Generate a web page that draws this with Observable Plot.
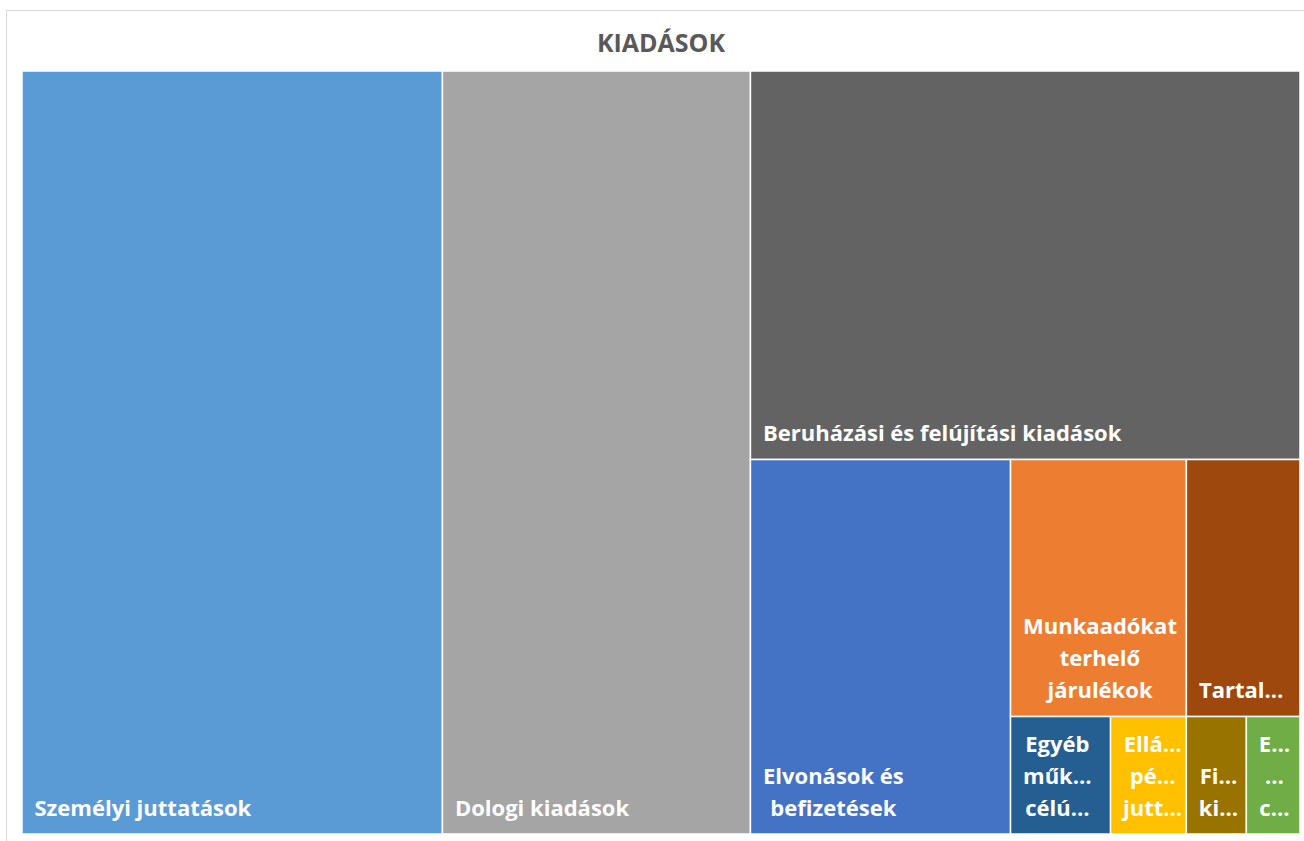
<!DOCTYPE html>
<html><head><meta charset="utf-8">
<script src="https://cdn.jsdelivr.net/npm/d3@7"></script>
<script src="https://cdn.jsdelivr.net/npm/@observablehq/plot@0.6"></script>
<style>
html,body{margin:0;padding:0;background:#fff;width:1304px;height:841px;overflow:hidden;}
#frame{position:absolute;left:6px;top:10px;width:1400px;height:900px;border:1.5px solid #d9d9d9;box-sizing:border-box;}
#title{position:absolute;left:0;top:27px;width:1322px;text-align:center;font:bold 25px "Open Sans";line-height:30px;color:#595959;}
#chart{position:absolute;left:0;top:0;}
</style></head><body>
<div id="frame"></div>
<div id="title">KIADÁSOK</div>
<div id="chart"></div>
<script>
const categories = [
  "Személyi juttatások",
  "Dologi kiadások",
  "Beruházási és felújítási kiadások",
  "Elvonások és befizetések",
  "Munkaadókat terhelő járulékok",
  "Tartalékok",
  "Egyéb működési célú kiadások",
  "Ellátottak pénzbeli juttatásai",
  "Finanszírozási kiadások",
  "Egyéb felhalmozási célú kiadások"
];
const values = [320.8, 235.0, 213.5, 97.4, 45.2, 29.2, 11.75, 8.9, 7.05, 6.3];
const colors = ["#5B9BD5", "#A5A5A5", "#636363", "#4472C4", "#ED7D31", "#9E480E", "#255E91", "#FFC000", "#997300", "#70AD47"];
const labels = [
  "Személyi juttatások",
  "Dologi kiadások",
  "Beruházási és felújítási kiadások",
  "Elvonások és\nbefizetések",
  "Munkaadókat\nterhelő\njárulékok",
  "Tartal…",
  "Egyéb\nműk…\ncélú…",
  "Ellá…\npé…\njutt…",
  "Fi…\nki…",
  "E…\n…\nc…"
];
// nesting of the tiles (slice / dice alternating by depth)
const groups = ["", "", "A", "A/B", "A/B/C/D", "A/B/C/D", "A/B/C/E", "A/B/C/E", "A/B/C/E", "A/B/C/E"];

// build hierarchy
const tree = {name: "root", children: []};
categories.forEach((c, i) => {
  let node = tree;
  const path = groups[i].split("/").filter(Boolean);
  for (const p of path) {
    let child = node.children.find(ch => ch.name === "g:" + p);
    if (!child) { child = {name: "g:" + p, children: []}; node.children.push(child); }
    node = child;
  }
  node.children.push({name: c, value: values[i], color: colors[i], label: labels[i]});
});

const W = 1278, H = 763;
const root = d3.hierarchy(tree).sum(d => d.value || 0);
d3.treemap().tile(d3.treemapSliceDice).size([W, H])(root);

const ctx = document.createElement("canvas").getContext("2d");
ctx.font = "bold 22px 'Open Sans'";
const leaves = root.leaves().map(n => {
  const w = d3.max(n.data.label.split("\n"), l => ctx.measureText(l).width);
  return {...n.data, x0: n.x0, x1: n.x1, y0: n.y0, y1: n.y1, tx: n.x0 + 12 + w / 2, ty: n.y1 - 19};
});

const chart = Plot.plot({
  width: 1304,
  height: 841,
  marginLeft: 22, marginRight: 4, marginTop: 71, marginBottom: 7,
  x: {domain: [0, W], range: [22, 1300], axis: null},
  y: {domain: [0, H], range: [71, 834], axis: null},
  color: {type: "identity"},
  style: {background: "transparent", overflow: "visible"},
  marks: [
    Plot.rect(leaves, {x1: "x0", x2: "x1", y1: "y0", y2: "y1", fill: "color", stroke: "white", strokeWidth: 1.5, title: "name"}),
    Plot.text(leaves, {x: "tx", y: "ty", text: "label", textAnchor: "middle", lineAnchor: "bottom", lineHeight: 1.45,
      fill: "white", fontSize: 22, fontWeight: "bold", fontFamily: "Open Sans"})
  ]
});
document.getElementById("chart").appendChild(chart);
</script>
</body></html>
